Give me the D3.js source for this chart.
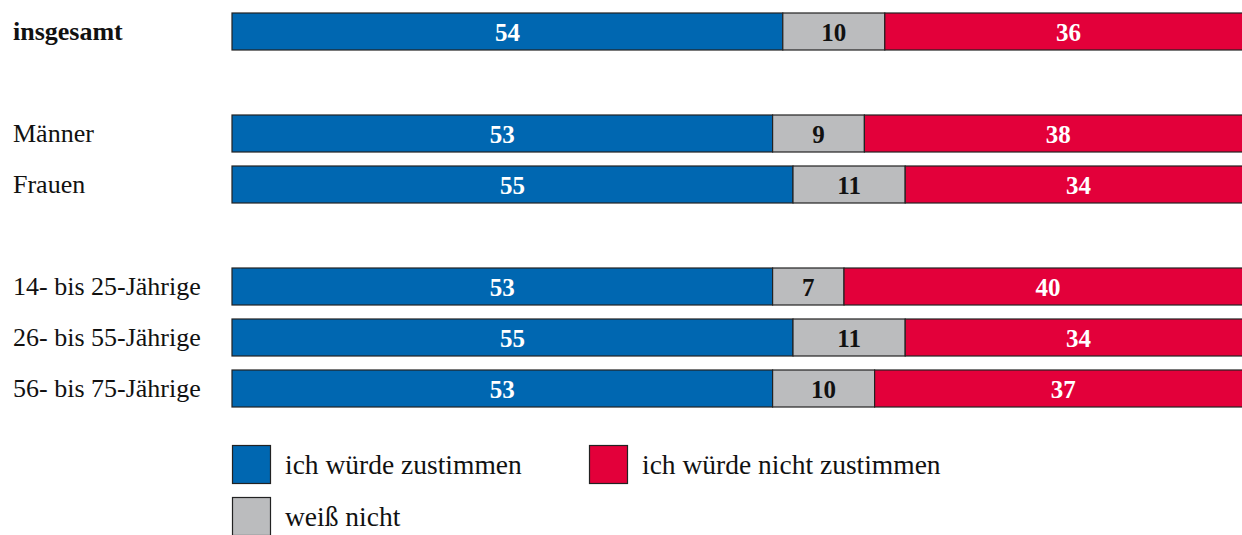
<!DOCTYPE html>
<html>
<head>
<meta charset="utf-8">
<script src="https://cdn.jsdelivr.net/npm/d3@7"></script>
<style>
  body { margin: 0; background: #fff; }
  svg { display: block; }
</style>
</head>
<body>
<div class="chart"></div>
<script>
var svgWidth = 1242;
var svgHeight = 535;
var fontName = "'Liberation Serif', 'DejaVu Serif', serif";

// rows of the chart, blanks are empty slots between the groups
var rows = ["insgesamt", "_1", "Männer", "Frauen", "_2", "14- bis 25-Jährige", "26- bis 55-Jährige", "56- bis 75-Jährige"];
var categories = ["insgesamt", "Männer", "Frauen", "14- bis 25-Jährige", "26- bis 55-Jährige", "56- bis 75-Jährige"];
var zustimmen = [54, 53, 55, 53, 55, 53];
var weissNicht = [10, 9, 11, 7, 11, 10];
var nichtZustimmen = [36, 38, 34, 40, 34, 37];

var seriesNames = ["ich würde zustimmen", "weiß nicht", "ich würde nicht zustimmen"];
var colors = ["#0067b1", "#bbbcbe", "#e3003a"];
var textColors = ["#fff", "#111", "#fff"];

var svg = d3.select(".chart")
  .append("svg")
  .attr("width", svgWidth)
  .attr("height", svgHeight);

// x runs past the right border, the picture cuts the bars off
var xScale = d3.scaleLinear()
  .domain([0, 100])
  .range([232, 1252]);

var yScale = d3.scaleBand()
  .domain(rows)
  .range([13, 13 + 51 * rows.length]);

var barH = 37;

// build stacked table
var table = categories.map(function (c, i) {
  return { cat: c, a: zustimmen[i], b: weissNicht[i], c: nichtZustimmen[i] };
});
var stacked = d3.stack().keys(["a", "b", "c"])(table);

var layers = svg.selectAll("g.layer")
  .data(stacked)
  .enter()
  .append("g")
  .attr("class", "layer");

layers.selectAll("rect")
  .data(d => d.map(e => ({ v: e, k: d.index })))
  .enter()
  .append("rect")
  .attr("x", d => xScale(d.v[0]))
  .attr("y", d => yScale(d.v.data.cat))
  .attr("width", d => xScale(d.v[1]) - xScale(d.v[0]))
  .attr("height", barH)
  .attr("fill", d => colors[d.k])
  .attr("stroke", "#222")
  .attr("stroke-width", 1.2);

layers.selectAll("text")
  .data(d => d.map(e => ({ v: e, k: d.index })))
  .enter()
  .append("text")
  .attr("x", d => (xScale(d.v[0]) + xScale(d.v[1])) / 2)
  .attr("y", d => yScale(d.v.data.cat) + barH / 2 + 9)
  .attr("text-anchor", "middle")
  .attr("font-family", fontName)
  .attr("font-size", "25px")
  .attr("font-weight", "bold")
  .attr("fill", d => textColors[d.k])
  .text(d => d.v[1] - d.v[0]);

// row labels
svg.selectAll("text.rowlabel")
  .data(categories)
  .enter()
  .append("text")
  .attr("class", "rowlabel")
  .attr("x", 13)
  .attr("y", d => yScale(d) + barH / 2 + 8)
  .attr("font-family", fontName)
  .attr("font-size", "26px")
  .attr("font-weight", (d, i) => i == 0 ? "bold" : "normal")
  .attr("fill", "#111")
  .text(d => d);

// legend
var legendPos = [[232, 445], [232, 497], [589, 445]];
var legend = svg.selectAll("g.legend")
  .data(seriesNames)
  .enter()
  .append("g")
  .attr("class", "legend")
  .attr("transform", (d, i) => `translate(${legendPos[i][0]}, ${legendPos[i][1]})`);

legend.append("rect")
  .attr("x", 0.5)
  .attr("y", 0.5)
  .attr("width", 38)
  .attr("height", 38)
  .attr("fill", (d, i) => colors[i])
  .attr("stroke", "#222")
  .attr("stroke-width", 1.2);

legend.append("text")
  .attr("x", 53)
  .attr("y", 29)
  .attr("font-family", fontName)
  .attr("font-size", "27.5px")
  .attr("fill", "#111")
  .text(d => d);
</script>
</body>
</html>
